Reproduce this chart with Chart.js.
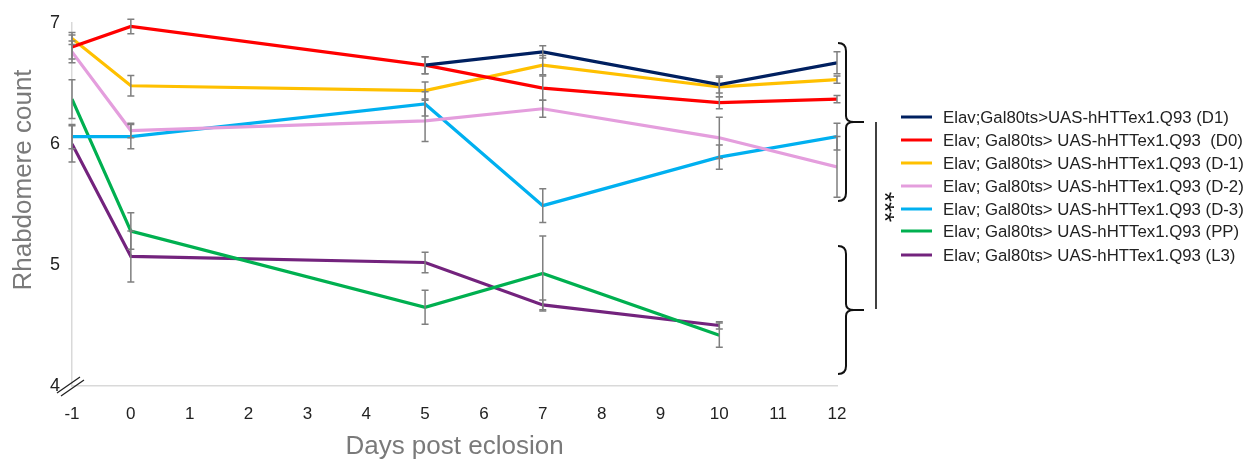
<!DOCTYPE html>
<html>
<head>
<meta charset="utf-8">
<script src="https://cdn.jsdelivr.net/npm/chart.js@4.4.1/dist/chart.umd.min.js"></script>
<style>
  html, body { margin: 0; padding: 0; background: #fff; }
  #wrap { width: 1256px; height: 464px; }
</style>
</head>
<body>
<div id="wrap"><canvas id="grafico" width="1256" height="464"></canvas></div>
<script>
  // dias pós-eclosão
  const dias = [-1, 0, 5, 7, 10, 12];
  const xTicks = [-1, 0, 1, 2, 3, 4, 5, 6, 7, 8, 9, 10, 11, 12];
  const yTicks = [4, 5, 6, 7];

  const rotulos = [
    'Elav;Gal80ts>UAS-hHTTex1.Q93 (D1)',
    'Elav; Gal80ts> UAS-hHTTex1.Q93  (D0)',
    'Elav; Gal80ts> UAS-hHTTex1.Q93 (D-1)',
    'Elav; Gal80ts> UAS-hHTTex1.Q93 (D-2)',
    'Elav; Gal80ts> UAS-hHTTex1.Q93 (D-3)',
    'Elav; Gal80ts> UAS-hHTTex1.Q93 (PP)',
    'Elav; Gal80ts> UAS-hHTTex1.Q93 (L3)'
  ];
  const cores = ['#002060', '#ff0000', '#ffc000', '#e49edd', '#00b0f0', '#00b050', '#73237d'];

  // médias
  const d1  = [null, null, 6.65, 6.76, 6.49, 6.67];
  const d0  = [6.80, 6.97, 6.65, 6.46, 6.34, 6.37];
  const dm1 = [6.87, 6.48, 6.44, 6.65, 6.47, 6.53];
  const dm2 = [6.76, 6.11, 6.19, 6.29, 6.05, 5.81];
  const dm3 = [6.06, 6.06, 6.33, 5.49, 5.89, 6.06];
  const pp  = [6.37, 5.28, 4.65, 4.93, 4.42, null];
  const l3  = [6.00, 5.07, 5.02, 4.67, 4.50, null];

  // erros (±)
  const d1Err  = [null, null, 0.07, 0.05, 0.07, 0.09];
  const d0Err  = [0.10, 0.06, 0.07, 0.10, 0.05, 0.03];
  const dm1Err = [0.05, 0.085, 0.07, 0.08, 0.08, 0.03];
  const dm2Err = [0.09, 0.06, 0.17, 0.07, 0.17, 0.25];
  const dm3Err = [0.10, 0.10, 0.10, 0.14, 0.10, 0.11];
  const ppErr  = [0.16, 0.15, 0.14, 0.31, 0.10, null];
  const l3Err  = [0.15, 0.21, 0.085, 0.04, 0.03, null];

  const series = [d1, d0, dm1, dm2, dm3, pp, l3];
  const erros = [d1Err, d0Err, dm1Err, dm2Err, dm3Err, ppErr, l3Err];

  const fonte = '"Liberation Sans", Arial, sans-serif';
  const ctx = document.getElementById('grafico').getContext('2d');

  const errorBars = {
    id: 'errorBars',
    afterDatasetsDraw(chart) {
      const c = chart.ctx;
      const xs = chart.scales.x, ys = chart.scales.y;
      c.save();
      c.strokeStyle = '#7f7f7f';
      c.lineWidth = 1.5;
      erros.forEach((errs, si) => {
        errs.forEach((e, i) => {
          const v = series[si][i];
          if (v == null || e == null) return;
          const px = xs.getPixelForValue(dias[i]);
          const top = ys.getPixelForValue(v + e);
          const bot = ys.getPixelForValue(v - e);
          const cap = 3.5;
          c.beginPath();
          c.moveTo(px, top); c.lineTo(px, bot);
          c.moveTo(px - cap, top); c.lineTo(px + cap, top);
          c.moveTo(px - cap, bot); c.lineTo(px + cap, bot);
          c.stroke();
        });
      });
      c.restore();
    }
  };

  const extras = {
    id: 'extras',
    afterDraw(chart) {
      const c = chart.ctx;
      const area = chart.chartArea;
      c.save();

      // título do eixo y
      c.fillStyle = '#7a7a7a';
      c.font = '26px ' + fonte;
      c.textAlign = 'center';
      c.textBaseline = 'middle';
      c.translate(24, 180);
      c.rotate(-Math.PI / 2);
      c.fillText('Rhabdomere count', 0, 0);
      c.setTransform(1, 0, 0, 1, 0, 0);

      // quebra do eixo
      c.strokeStyle = '#222';
      c.lineWidth = 1.3;
      c.beginPath();
      c.moveTo(area.left - 15, area.bottom + 7); c.lineTo(area.left + 8, area.bottom - 9);
      c.moveTo(area.left - 11, area.bottom + 10); c.lineTo(area.left + 12, area.bottom - 6);
      c.stroke();

      // chaves
      function chave(x, y1, y2) {
        const mid = (y1 + y2) / 2;
        c.beginPath();
        c.moveTo(x, y1);
        c.quadraticCurveTo(x + 8, y1, x + 8, y1 + 8);
        c.lineTo(x + 8, mid - 6);
        c.quadraticCurveTo(x + 8, mid, x + 16, mid);
        c.quadraticCurveTo(x + 8, mid, x + 8, mid + 6);
        c.lineTo(x + 8, y2 - 8);
        c.quadraticCurveTo(x + 8, y2, x, y2);
        c.moveTo(x + 16, mid); c.lineTo(x + 26, mid);
        c.stroke();
      }
      c.strokeStyle = '#111';
      c.lineWidth = 2;
      chave(838, 43, 201);
      chave(838, 246, 374);
      c.lineWidth = 1.6;
      c.beginPath();
      c.moveTo(876, 122); c.lineTo(876, 309);
      c.stroke();

      c.fillStyle = '#111';
      c.font = '26px ' + fonte;
      c.translate(883, 207);
      c.rotate(Math.PI / 2);
      c.textAlign = 'center';
      c.textBaseline = 'middle';
      c.fillText('***', 0, 0);
      c.setTransform(1, 0, 0, 1, 0, 0);

      // legenda
      const ly = [117, 140, 163, 186, 209, 231, 255];
      c.font = '16.8px ' + fonte;
      c.textAlign = 'left';
      c.textBaseline = 'middle';
      rotulos.forEach((r, i) => {
        c.strokeStyle = cores[i];
        c.lineWidth = 3;
        c.beginPath();
        c.moveTo(901, ly[i]); c.lineTo(932, ly[i]);
        c.stroke();
        c.fillStyle = '#222';
        c.fillText(r, 943, ly[i] + 1);
      });
      c.restore();
    }
  };

  new Chart(ctx, {
    type: 'line',
    data: {
      datasets: series.map((s, i) => ({
        label: rotulos[i],
        data: dias.map((d, j) => ({ x: d, y: s[j] })).filter(p => p.y != null),
        borderColor: cores[i],
        backgroundColor: cores[i],
        borderWidth: 3.2,
        pointRadius: 0,
        tension: 0,
        fill: false
      }))
    },
    options: {
      responsive: false,
      animation: false,
      layout: { padding: { top: 17, right: 419, left: 0, bottom: 0 } },
      scales: {
        x: {
          type: 'linear',
          min: -1,
          max: 12,
          afterFit: s => { s.height = 78; },
          afterBuildTicks: s => { s.ticks = xTicks.map(v => ({ value: v })); },
          grid: { display: false, drawTicks: false },
          border: { color: '#d9d9d9', width: 1.5 },
          ticks: { color: '#222', font: { size: 17, family: fonte }, padding: 18, maxRotation: 0 },
          title: { display: true, text: 'Days post eclosion', color: '#7a7a7a', font: { size: 26, family: fonte }, padding: { top: 0, bottom: 2 } }
        },
        y: {
          min: 4,
          max: 7,
          afterFit: s => { s.width = 72; },
          afterBuildTicks: s => { s.ticks = yTicks.map(v => ({ value: v })); },
          grid: { display: false, drawTicks: false },
          border: { color: '#d9d9d9', width: 1.5 },
          ticks: { color: '#222', font: { size: 18, family: fonte }, padding: 12 }
        }
      },
      plugins: {
        legend: { display: false },
        tooltip: { enabled: false }
      }
    },
    plugins: [errorBars, extras]
  });
</script>
</body>
</html>
